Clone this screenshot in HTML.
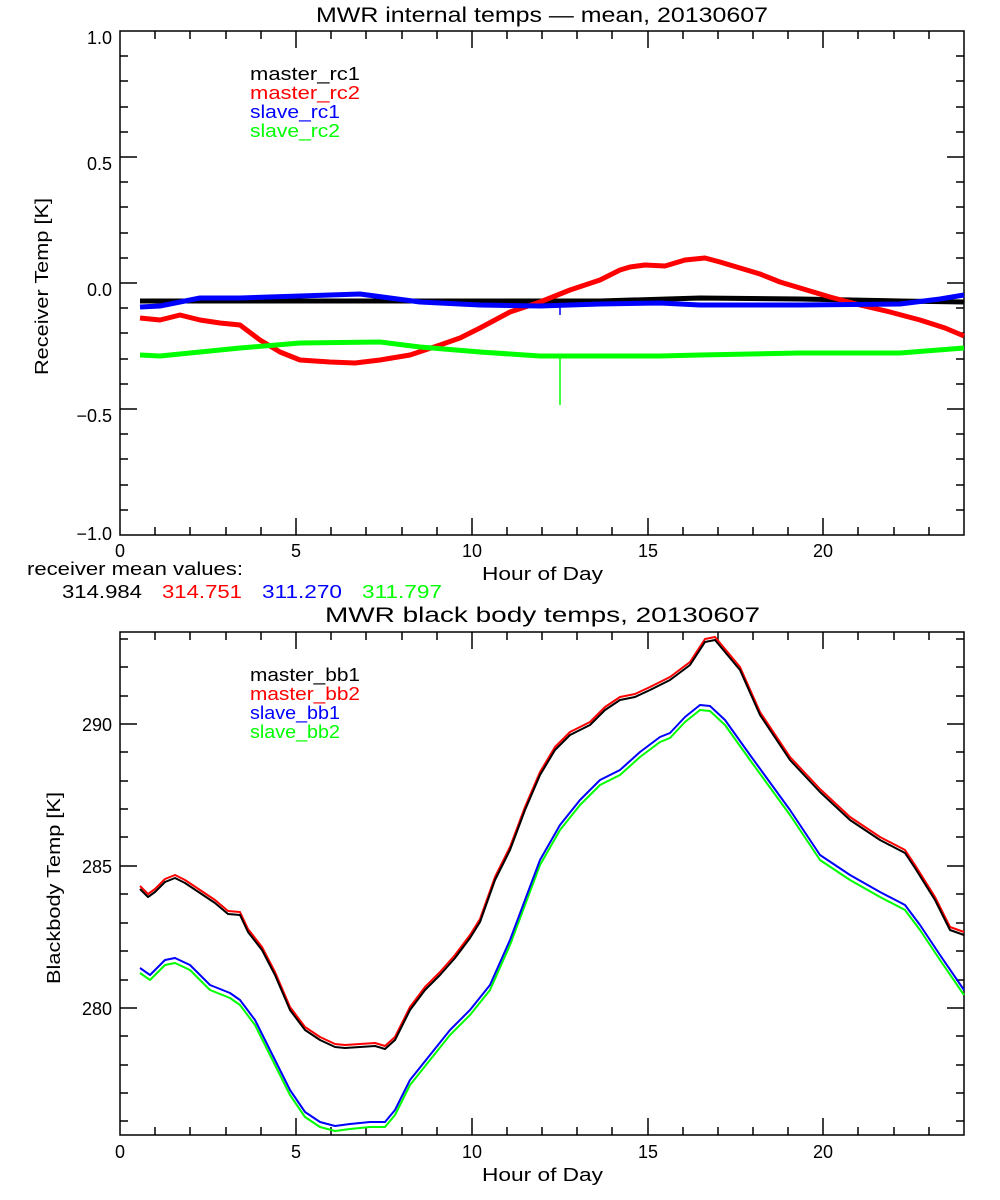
<!DOCTYPE html>
<html><head><meta charset="utf-8"><style>
html,body{margin:0;padding:0;background:#fff}
svg{display:block}
text{font-family:"Liberation Sans","DejaVu Sans",sans-serif;font-size:18px}
</style></head><body>
<svg width="1000" height="1200" xmlns="http://www.w3.org/2000/svg">
<rect width="1000" height="1200" fill="#fff"/>
<!-- Plot 1 -->
<text x="316" y="22" textLength="452" lengthAdjust="spacingAndGlyphs" style="font-size:21px">MWR internal temps — mean, 20130607</text>
<g stroke="#000" stroke-width="1.5" fill="none">
<rect x="120" y="31" width="844" height="504"/>
<path d="M120 157h17M120 283h17M120 409h17M964 157h-17M964 283h-17M964 409h-17
M120 56h8M120 81h8M120 107h8M120 132h8M120 182h8M120 207h8M120 233h8M120 258h8M120 308h8M120 333h8M120 359h8M120 384h8M120 434h8M120 459h8M120 485h8M120 510h8
M964 56h-8M964 81h-8M964 107h-8M964 132h-8M964 182h-8M964 207h-8M964 233h-8M964 258h-8M964 308h-8M964 333h-8M964 359h-8M964 384h-8M964 434h-8M964 459h-8M964 485h-8M964 510h-8"/>
<path d="M296 535v-17M472 535v-17M648 535v-17M823 535v-17M296 31v17M472 31v17M648 31v17M823 31v17
M155 535v-8M190 535v-8M226 535v-8M261 535v-8M331 535v-8M366 535v-8M402 535v-8M437 535v-8M507 535v-8M542 535v-8M577 535v-8M612 535v-8M683 535v-8M718 535v-8M753 535v-8M788 535v-8M858 535v-8M894 535v-8M929 535v-8
M155 31v8M190 31v8M226 31v8M261 31v8M331 31v8M366 31v8M402 31v8M437 31v8M507 31v8M542 31v8M577 31v8M612 31v8M683 31v8M718 31v8M753 31v8M788 31v8M858 31v8M894 31v8M929 31v8"/>
</g>
<g text-anchor="end">
<text x="112" y="44">1.0</text><text x="112" y="170">0.5</text><text x="112" y="296">0.0</text><text x="112" y="422">−0.5</text><text x="112" y="540">−1.0</text>
</g>
<g text-anchor="middle">
<text x="120" y="557">0</text><text x="296" y="557">5</text><text x="472" y="557">10</text><text x="648" y="557">15</text><text x="823" y="557">20</text>
</g>
<text x="482" y="580" textLength="121" lengthAdjust="spacingAndGlyphs">Hour of Day</text>
<text transform="translate(48,375) rotate(-90)" textLength="177" lengthAdjust="spacingAndGlyphs">Receiver Temp [K]</text>
<text x="250" y="80" textLength="110" lengthAdjust="spacingAndGlyphs">master_rc1</text>
<text x="250" y="99" fill="#f00" textLength="110" lengthAdjust="spacingAndGlyphs">master_rc2</text>
<text x="250" y="118" fill="#00f" textLength="90" lengthAdjust="spacingAndGlyphs">slave_rc1</text>
<text x="250" y="137" fill="#0f0" textLength="90" lengthAdjust="spacingAndGlyphs">slave_rc2</text>
<text x="27" y="575" textLength="216" lengthAdjust="spacingAndGlyphs">receiver mean values:</text>
<text x="62" y="598" textLength="80" lengthAdjust="spacingAndGlyphs">314.984</text><text x="162" y="598" fill="#f00" textLength="80" lengthAdjust="spacingAndGlyphs">314.751</text><text x="262" y="598" fill="#00f" textLength="80" lengthAdjust="spacingAndGlyphs">311.270</text><text x="362" y="598" fill="#0f0" textLength="80" lengthAdjust="spacingAndGlyphs">311.797</text>
<g fill="none" stroke-width="5" stroke-linejoin="round">
<polyline stroke="#000" points="140,301 300,301 500,301 600,301 700,298 800,299 900,301 964,302"/>
<polyline stroke="#f00" points="140,318 160,320 180,315 200,320 220,323 240,325 260,340 280,352 300,360 330,362 355,363 380,360 410,355 440,345 460,338 480,328 510,312 540,302 570,290 600,280 620,270 630,267 645,265 665,266 685,260 705,258 720,262 740,268 760,274 780,282 800,288 830,297 860,305 890,312 920,320 945,328 964,336"/>
<polyline stroke="#00f" points="140,307 160,306 200,298 240,298 300,296 360,294 420,302 480,305 540,306 600,304 660,303 700,305 800,305 900,304 940,299 964,295"/>
<polyline stroke="#0f0" points="140,355 160,356 200,352 240,348 300,343 380,342 420,347 480,352 540,356 600,356 660,356 700,355 800,353 900,353 964,348"/>
</g>
<path d="M560 356V405" stroke="#0f0" stroke-width="1.5"/>
<path d="M560 305V315" stroke="#00f" stroke-width="1.5"/>
<!-- Plot 2 -->
<text x="325" y="622" textLength="435" lengthAdjust="spacingAndGlyphs" style="font-size:21px">MWR black body temps, 20130607</text>
<g stroke="#000" stroke-width="1.5" fill="none">
<rect x="120" y="632" width="844" height="503"/>
<path d="M120 724h17M120 866h17M120 1008h17M964 724h-17M964 866h-17M964 1008h-17
M120 639h8M120 667h8M120 696h8M120 752h8M120 781h8M120 809h8M120 837h8M120 894h8M120 923h8M120 951h8M120 980h8M120 1036h8M120 1065h8M120 1093h8M120 1121h8
M964 639h-8M964 667h-8M964 696h-8M964 752h-8M964 781h-8M964 809h-8M964 837h-8M964 894h-8M964 923h-8M964 951h-8M964 980h-8M964 1036h-8M964 1065h-8M964 1093h-8M964 1121h-8"/>
<path d="M296 1135v-17M472 1135v-17M648 1135v-17M823 1135v-17M296 632v17M472 632v17M648 632v17M823 632v17
M155 1135v-8M190 1135v-8M226 1135v-8M261 1135v-8M331 1135v-8M366 1135v-8M402 1135v-8M437 1135v-8M507 1135v-8M542 1135v-8M577 1135v-8M612 1135v-8M683 1135v-8M718 1135v-8M753 1135v-8M788 1135v-8M858 1135v-8M894 1135v-8M929 1135v-8
M155 632v8M190 632v8M226 632v8M261 632v8M331 632v8M366 632v8M402 632v8M437 632v8M507 632v8M542 632v8M577 632v8M612 632v8M683 632v8M718 632v8M753 632v8M788 632v8M858 632v8M894 632v8M929 632v8"/>
</g>
<g text-anchor="end">
<text x="112" y="731">290</text><text x="112" y="873">285</text><text x="112" y="1015">280</text>
</g>
<g text-anchor="middle">
<text x="120" y="1158">0</text><text x="296" y="1158">5</text><text x="472" y="1158">10</text><text x="648" y="1158">15</text><text x="823" y="1158">20</text>
</g>
<text x="482" y="1181" textLength="121" lengthAdjust="spacingAndGlyphs">Hour of Day</text>
<text transform="translate(60,984) rotate(-90)" textLength="192" lengthAdjust="spacingAndGlyphs">Blackbody Temp [K]</text>
<text x="250" y="681" textLength="110" lengthAdjust="spacingAndGlyphs">master_bb1</text>
<text x="250" y="700" fill="#f00" textLength="110" lengthAdjust="spacingAndGlyphs">master_bb2</text>
<text x="250" y="719" fill="#00f" textLength="90" lengthAdjust="spacingAndGlyphs">slave_bb1</text>
<text x="250" y="738" fill="#0f0" textLength="90" lengthAdjust="spacingAndGlyphs">slave_bb2</text>
<g fill="none" stroke-width="2" stroke-linejoin="round">
<polyline stroke="#f00" transform="translate(0,-3)" points="140,889 148,897 155,892 165,882 175,878 185,883 200,893 215,903 228,914 240,915 248,932 262,950 275,975 290,1010 305,1030 320,1040 335,1047 345,1048 360,1047 375,1046 385,1049 395,1040 410,1010 425,990 440,975 455,958 470,938 480,922 495,880 510,850 525,810 540,775 555,750 570,735 590,725 605,710 620,700 635,697 650,690 670,680 690,665 705,642 715,640 725,652 740,670 760,715 790,760 820,792 850,820 880,840 905,853 915,868 935,900 950,930 964,935"/>
<polyline stroke="#000" points="140,889 148,897 155,892 165,882 175,878 185,883 200,893 215,903 228,914 240,915 248,932 262,950 275,975 290,1010 305,1030 320,1040 335,1047 345,1048 360,1047 375,1046 385,1049 395,1040 410,1010 425,990 440,975 455,958 470,938 480,922 495,880 510,850 525,810 540,775 555,750 570,735 590,725 605,710 620,700 635,697 650,690 670,680 690,665 705,642 715,640 725,652 740,670 760,715 790,760 820,792 850,820 880,840 905,853 915,868 935,900 950,930 964,935"/>
<polyline stroke="#0f0" transform="translate(0,5)" points="140,968 150,975 165,960 175,958 190,965 210,985 230,993 240,1000 255,1020 275,1060 290,1090 305,1112 320,1122 335,1126 350,1124 370,1122 385,1122 395,1110 410,1080 430,1055 450,1030 470,1010 490,985 510,940 525,900 540,860 560,825 580,800 600,780 620,770 640,752 660,737 670,733 685,717 700,705 710,706 725,720 750,755 790,810 820,855 850,875 880,892 905,905 920,925 940,955 964,990"/>
<polyline stroke="#00f" points="140,968 150,975 165,960 175,958 190,965 210,985 230,993 240,1000 255,1020 275,1060 290,1090 305,1112 320,1122 335,1126 350,1124 370,1122 385,1122 395,1110 410,1080 430,1055 450,1030 470,1010 490,985 510,940 525,900 540,860 560,825 580,800 600,780 620,770 640,752 660,737 670,733 685,717 700,705 710,706 725,720 750,755 790,810 820,855 850,875 880,892 905,905 920,925 940,955 964,990"/>
</g>
</svg>
</body></html>
